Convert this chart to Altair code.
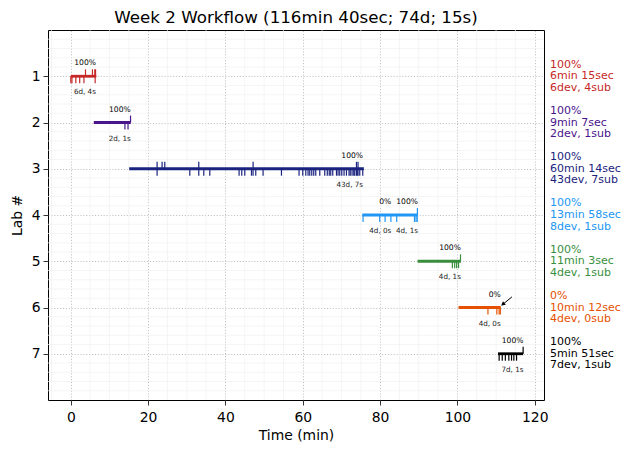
import altair as alt
import pandas as pd
import numpy as np

# ---------------- data ----------------
labs = [1, 2, 3, 4, 5, 6, 7]
colors = ["#c62828", "#4a148c", "#1a237e", "#2196f3", "#388e3c", "#e65100", "#000000"]
bar_start = [0.0, 5.95, 15.1, 75.4, 89.7, 100.3, 110.5]
bar_end = [6.6, 15.5, 75.8, 89.7, 100.9, 111.2, 117.0]

dev_lab1 = [0.0, 0.3, 1.3, 2.3, 3.4, 6.3]
dev_lab2 = [14.0, 14.8]
dev_lab3 = [22.32, 33.10, 30.78, 34.40, 35.95, 43.53, 44.22, 45.00, 46.73, 47.15,
            47.84, 49.73, 54.49, 59.04, 60.0, 60.78, 61.37, 61.81, 62.33, 62.84,
            63.36, 64.40, 65.69, 66.34, 66.85, 67.24, 67.76, 68.72, 69.13, 69.57,
            70.09, 70.68, 71.30, 71.97, 72.28, 72.75, 73.19, 73.45, 73.89, 74.09,
            74.30, 74.74, 75.52]
dev_lab4 = [75.6, 79.9, 81.3, 82.8, 84.3, 88.9, 89.3, 89.6]
dev_lab5 = [98.7, 99.3, 99.8, 100.3]
dev_lab6 = [107.9, 110.2, 110.8, 111.1]
dev_lab7 = [110.8, 111.6, 112.4, 113.3, 114.0, 114.6, 115.3]
devs = [dev_lab1, dev_lab2, dev_lab3, dev_lab4, dev_lab5, dev_lab6, dev_lab7]

sub_lab1 = [3.8, 5.6, 6.2, 6.4]
sub_lab2 = [15.45]
sub_lab3 = [22.32, 23.61, 24.31, 33.10, 47.15, 73.89, 74.30]
sub_lab4 = [89.65]
sub_lab5 = [100.8]
sub_lab6 = []
sub_lab7 = [117.0]
subs = [sub_lab1, sub_lab2, sub_lab3, sub_lab4, sub_lab5, sub_lab6, sub_lab7]

seg_lab = [1, 2, 3, 4, 4, 5, 6, 7]
seg_end = [6.5, 15.5, 75.6, 82.9, 89.8, 100.9, 111.2, 117.1]
seg_pct = ["100%", "100%", "100%", "0%", "100%", "100%", "0%", "100%"]
seg_cnt = ["6d, 4s", "2d, 1s", "43d, 7s", "4d, 0s", "4d, 1s", "4d, 1s", "4d, 0s", "7d, 1s"]

ann_pct = ["100%", "100%", "100%", "100%", "100%", "0%", "100%"]
ann_dur = ["6min 15sec", "9min 7sec", "60min 14sec", "13min 58sec",
           "11min 3sec", "10min 12sec", "5min 51sec"]
ann_cnt = ["6dev, 4sub", "2dev, 1sub", "43dev, 7sub", "8dev, 1sub",
           "4dev, 1sub", "4dev, 0sub", "7dev, 1sub"]

arrow_tail = (114.1, 5.77)
arrow_tip = (111.5, 5.95)

x_ticks = [0, 20, 40, 60, 80, 100, 120]
y_ticks = [1, 2, 3, 4, 5, 6, 7]

# ---------------- tables ----------------
bars = pd.DataFrame({"lab": labs, "x": bar_start, "x2": bar_end, "color": colors})

TL = 0.15
dev_rows, sub_rows = [], []
for lab, c, dl, sl in zip(labs, colors, devs, subs):
    for t in dl:
        dev_rows.append({"x": t, "y": lab, "y2": lab + TL, "color": c})
    for t in sl:
        sub_rows.append({"x": t, "y": lab - TL, "y2": lab, "color": c})
dev_df = pd.DataFrame(dev_rows)
sub_df = pd.DataFrame(sub_rows)

seg_df = pd.DataFrame({"lab": seg_lab, "x": seg_end, "pct": seg_pct, "cnt": seg_cnt})
ann_df = pd.DataFrame({"lab": labs, "pct": ann_pct, "dur": ann_dur, "cnt": ann_cnt, "color": colors})

xmin, xmax = -5.9, 122.4
minor_x = pd.DataFrame({"x": [v for v in np.arange(-5, 125, 5) if v % 20 != 0 and xmin < v < xmax]})
minor_y = pd.DataFrame({"y": [round(v, 1) for v in np.arange(0.2, 8.0, 0.2) if abs(v - round(v)) > 1e-6]})

arrow_df = pd.DataFrame({"x": [arrow_tail[0]], "y": [arrow_tail[1]],
                         "x2": [arrow_tip[0]], "y2": [arrow_tip[1]]})
head_df = pd.DataFrame({"x": [arrow_tip[0] + 0.25], "y": [arrow_tip[1] - 0.02]})

# ---------------- scales / axes ----------------
x_scale = alt.Scale(domain=[xmin, xmax], nice=False, zero=False)
y_scale = alt.Scale(domain=[0, 8], reverse=True, nice=False, zero=False)
x_axis = alt.Axis(values=x_ticks, title="Time (min)", grid=True, format="d",
                  tickSize=5, labelPadding=5, titlePadding=5)
y_axis = alt.Axis(values=y_ticks, title="Lab #", grid=True, format="d",
                  tickSize=5, labelPadding=3, titlePadding=7)


def X(f):
    return alt.X(f, type="quantitative", scale=x_scale, axis=x_axis)


def Y(f):
    return alt.Y(f, type="quantitative", scale=y_scale, axis=y_axis)


FONT = "DejaVu Sans"

minor_v = alt.Chart(minor_x).mark_rule(color="#f0f0f0", strokeWidth=0.7).encode(x=X("x"))
minor_h = alt.Chart(minor_y).mark_rule(color="#f0f0f0", strokeWidth=0.7).encode(y=Y("y"))

bar_layer = alt.Chart(bars).mark_rule(strokeWidth=2.8).encode(
    x=X("x"), x2="x2", y=Y("lab"), color=alt.Color("color:N", scale=None))
dev_layer = alt.Chart(dev_df).mark_rule(strokeWidth=1.2).encode(
    x=X("x"), y=Y("y"), y2="y2", color=alt.Color("color:N", scale=None))
sub_layer = alt.Chart(sub_df).mark_rule(strokeWidth=1.2).encode(
    x=X("x"), y=Y("y"), y2="y2", color=alt.Color("color:N", scale=None))

pct_layer = alt.Chart(seg_df).mark_text(font=FONT, fontSize=7.6, align="right", baseline="middle",
                                        dy=-13, dx=0, color="black").encode(
    x=X("x"), y=Y("lab"), text="pct")
cnt_layer = alt.Chart(seg_df).mark_text(font=FONT, fontSize=7.2, align="right", baseline="middle",
                                        dy=16, dx=0, color="#222222").encode(
    x=X("x"), y=Y("lab"), text="cnt")

ann_layers = []
for fld, off in [("pct", -11.6), ("dur", 0), ("cnt", 11.6)]:
    ann_layers.append(
        alt.Chart(ann_df).mark_text(font=FONT, fontSize=11, align="left", baseline="middle",
                                    dy=off).encode(
            x=alt.value(502), y=Y("lab"), text=fld, color=alt.Color("color:N", scale=None)))

arrow_line = alt.Chart(arrow_df).mark_rule(color="black", strokeWidth=1).encode(
    x=X("x"), x2="x2", y=Y("y"), y2="y2")
arrow_head = alt.Chart(head_df).mark_point(shape="triangle-up", filled=True, color="black",
                                           size=22, angle=231, opacity=1).encode(
    x=X("x"), y=Y("y"))

chart = alt.layer(
    minor_v, minor_h, bar_layer, dev_layer, sub_layer, pct_layer, cnt_layer,
    *ann_layers, arrow_line, arrow_head
).properties(
    width=496, height=370,
    title=alt.TitleParams("Week 2 Workflow (116min 40sec; 74d; 15s)", font=FONT,
                          fontSize=16.7, fontWeight="normal", color="black", offset=3),
    autosize=alt.AutoSizeParams(type="none"),
    padding={"left": 40, "top": 22, "right": 78, "bottom": 45},
).configure_view(
    stroke="black", strokeWidth=1
).configure_axis(
    labelFont=FONT, titleFont=FONT, labelFontSize=13.9, titleFontSize=13.9,
    labelColor="black", titleColor="black", titleFontWeight="normal",
    tickColor="black", tickWidth=0.8, domain=False,
    gridColor="#b0b0b0", gridDash=[1.1, 1.8], gridWidth=0.8
)

chart.save("out.html", embed_options={"renderer": "svg", "actions": False})
